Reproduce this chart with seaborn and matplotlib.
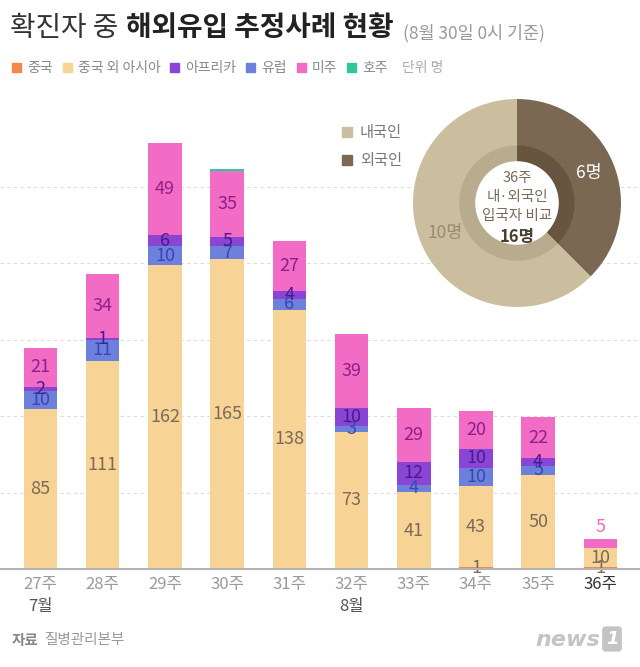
import numpy as np
import pandas as pd
import matplotlib
matplotlib.use('Agg')
import matplotlib.pyplot as plt
import seaborn as sns
from matplotlib.patches import Rectangle, Circle

# data
weeks = ['27주', '28주', '29주', '30주', '31주', '32주', '33주', '34주', '35주', '36주']
china = [0, 0, 0, 0, 0, 0, 0, 1, 0, 1]
asia = [85, 111, 162, 165, 138, 73, 41, 43, 50, 10]
europe = [10, 11, 10, 7, 6, 3, 4, 10, 5, 0]
africa = [2, 1, 6, 5, 4, 10, 12, 10, 4, 0]
america = [21, 34, 49, 35, 27, 39, 29, 20, 22, 5]
australia = [0, 0, 0, 1, 0, 0, 0, 0, 0, 0]
months = {0: '7월', 5: '8월'}

donut_labels = ['외국인', '내국인']
donut_values = [6, 10]

layers = [
    ('중국', china, '#f28a4c', '#7a6a58'),
    ('중국 외 아시아', asia, '#f7d496', '#7a6a58'),
    ('유럽', europe, '#6c80dc', '#3947b0'),
    ('아프리카', africa, '#8a45d4', '#4b1a8c'),
    ('미주', america, '#f26cc6', '#8e1f86'),
    ('호주', australia, '#2ec99a', None),
]
legend_order = ['중국', '중국 외 아시아', '아프리카', '유럽', '미주', '호주']

sns.set_style('white')
plt.rcParams['font.family'] = ['Noto Sans CJK KR', 'DejaVu Sans']

W, H = 640, 667
fig = plt.figure(figsize=(W / 100, H / 100), dpi=100)
fig.patch.set_facecolor('white')

def fx(x):
    return x / W

def fy(y):
    return 1 - y / H

# bar axes
ymax = 245
ax = fig.add_axes([0, fy(569), 1, ymax * 1.877 / H])
df = pd.DataFrame({'week': weeks})
bottom = np.zeros(len(weeks))
for name, vals, col, lcol in layers:
    df['v'] = vals
    sns.barplot(data=df, x='week', y='v', bottom=bottom, color=col, width=0.54,
                saturation=1, linewidth=0, ax=ax, zorder=3)
    if lcol is not None:
        for i, v in enumerate(vals):
            if v <= 0:
                continue
            if name == '미주' and i == len(weeks) - 1:
                ax.text(i, bottom[i] + v + 1.5, str(v), ha='center', va='bottom',
                        fontsize=13, color='#e86cc8', zorder=5)
            else:
                ax.text(i, bottom[i] + v / 2, str(v), ha='center', va='center',
                        fontsize=13, color=lcol, zorder=5)
    bottom = bottom + np.array(vals)

ax.set_xlim(-0.651, 9.638)
ax.set_ylim(0, ymax)
ax.set_yticks(np.arange(1, 6) * 40.7)
ax.set_yticklabels([])
ax.yaxis.grid(True, ls=(0, (3, 3)), color='#dcdcdc', lw=0.8, zorder=0)
ax.set_axisbelow(True)
ax.set_xlabel('')
ax.set_ylabel('')
for s in ['top', 'left', 'right']:
    ax.spines[s].set_visible(False)
ax.spines['bottom'].set_color('#b4b4b4')
ax.spines['bottom'].set_linewidth(1.5)
ax.spines['bottom'].set_zorder(6)
ax.tick_params(axis='both', length=0)
ax.tick_params(axis='x', pad=5)
ax.set_xticks(range(len(weeks)))
ax.set_xticklabels(weeks, fontsize=12)
for i, t in enumerate(ax.get_xticklabels()):
    t.set_color('#333333' if i == len(weeks) - 1 else '#9a9a9a')
ax.patch.set_alpha(0)
for i, m in months.items():
    fig.text(fx(40.5 + 62.2 * i), fy(607), m, ha='center', va='center', fontsize=12, color='#555555')

# donut
dax = fig.add_axes([fx(413), fy(307), 208 / W, 208 / H])
dax.patch.set_alpha(0)
dax.pie(donut_values, colors=['#7b6853', '#cbbe9f'], startangle=90, counterclock=False,
        radius=1, wedgeprops=dict(width=0.45, linewidth=0))
dax.pie(donut_values, colors=['#675540', '#b8ab8e'], startangle=90, counterclock=False,
        radius=0.555, wedgeprops=dict(width=0.16, linewidth=0))
dax.add_patch(Circle((0, 0), 0.395, color='white', zorder=4))
dax.set_xlim(-1, 1)
dax.set_ylim(-1, 1)
dax.axis('off')
ang = 90
for v, col in zip(donut_values, ['white', '#9a8a6e']):
    span = 360 * v / sum(donut_values)
    mid = np.deg2rad(ang - span / 2)
    dax.text(0.75 * np.cos(mid), 0.75 * np.sin(mid), f'{v}명', ha='center', va='center',
             fontsize=12.5, color=col, zorder=5)
    ang -= span
for yy, s in [(0.24, '36주'), (0.06, '내·외국인'), (-0.125, '입국자 비교')]:
    dax.text(0, yy, s, ha='center', va='center', fontsize=10.5, color='#7a6a58', zorder=5)
dax.text(0, -0.33, f'{sum(donut_values)}명', ha='center', va='center', fontsize=12,
         fontweight='bold', color='#4a3e30', zorder=5)

# donut legend
for yy, lab, col in [(132, '내국인', '#cbbe9f'), (160, '외국인', '#7b6853')]:
    fig.patches.append(Rectangle((fx(342), fy(yy + 5)), 10 / W, 10 / H, color=col,
                                 transform=fig.transFigure, figure=fig))
    fig.text(fx(360), fy(yy), lab, ha='left', va='center', fontsize=11, color='#777777')

# title and legend, chained left to right
renderer = fig.canvas.get_renderer()

def chain(x, y, parts):
    for s, kw, gap in parts:
        t = fig.text(fx(x), fy(y), s, ha='left', va='center', **kw)
        x = t.get_window_extent(renderer).x1 + gap
    return x

chain(10, 28, [
    ('확진자 중', dict(fontsize=20, color='#333333'), 8),
    ('해외유입 추정사례 현황', dict(fontsize=20, fontweight='bold', color='#222222'), 7),
])
fig.text(fx(403), fy(33), '(8월 30일 0시 기준)', ha='left', va='center', fontsize=12.5, color='#999999')

x = 12
colors = {name: col for name, _, col, _ in layers}
for name in legend_order:
    fig.patches.append(Rectangle((fx(x), fy(72)), 9 / W, 9 / H, color=colors[name],
                                 transform=fig.transFigure, figure=fig))
    x = chain(x + 15, 68, [(name, dict(fontsize=10, color='#888888'), 10)])
fig.text(fx(x + 4), fy(68), '단위 명', ha='left', va='center', fontsize=10, color='#aaaaaa')

# source and logo
chain(12, 640, [
    ('자료', dict(fontsize=10.5, fontweight='bold', color='#888888'), 5),
    ('질병관리본부', dict(fontsize=10.5, color='#999999'), 0),
])
fig.text(fx(600), fy(640), 'news', ha='right', va='center', fontsize=16, fontweight='bold',
         style='italic', color='#c4c4c4', family='DejaVu Sans')
fig.text(fx(612), fy(639), '1', ha='center', va='center', fontsize=13, fontweight='bold',
         style='italic', color='white', family='DejaVu Sans',
         bbox=dict(boxstyle='round,pad=0.2', fc='#c4c4c4', ec='none'))

fig.savefig('out.png', dpi=100, facecolor='white')
